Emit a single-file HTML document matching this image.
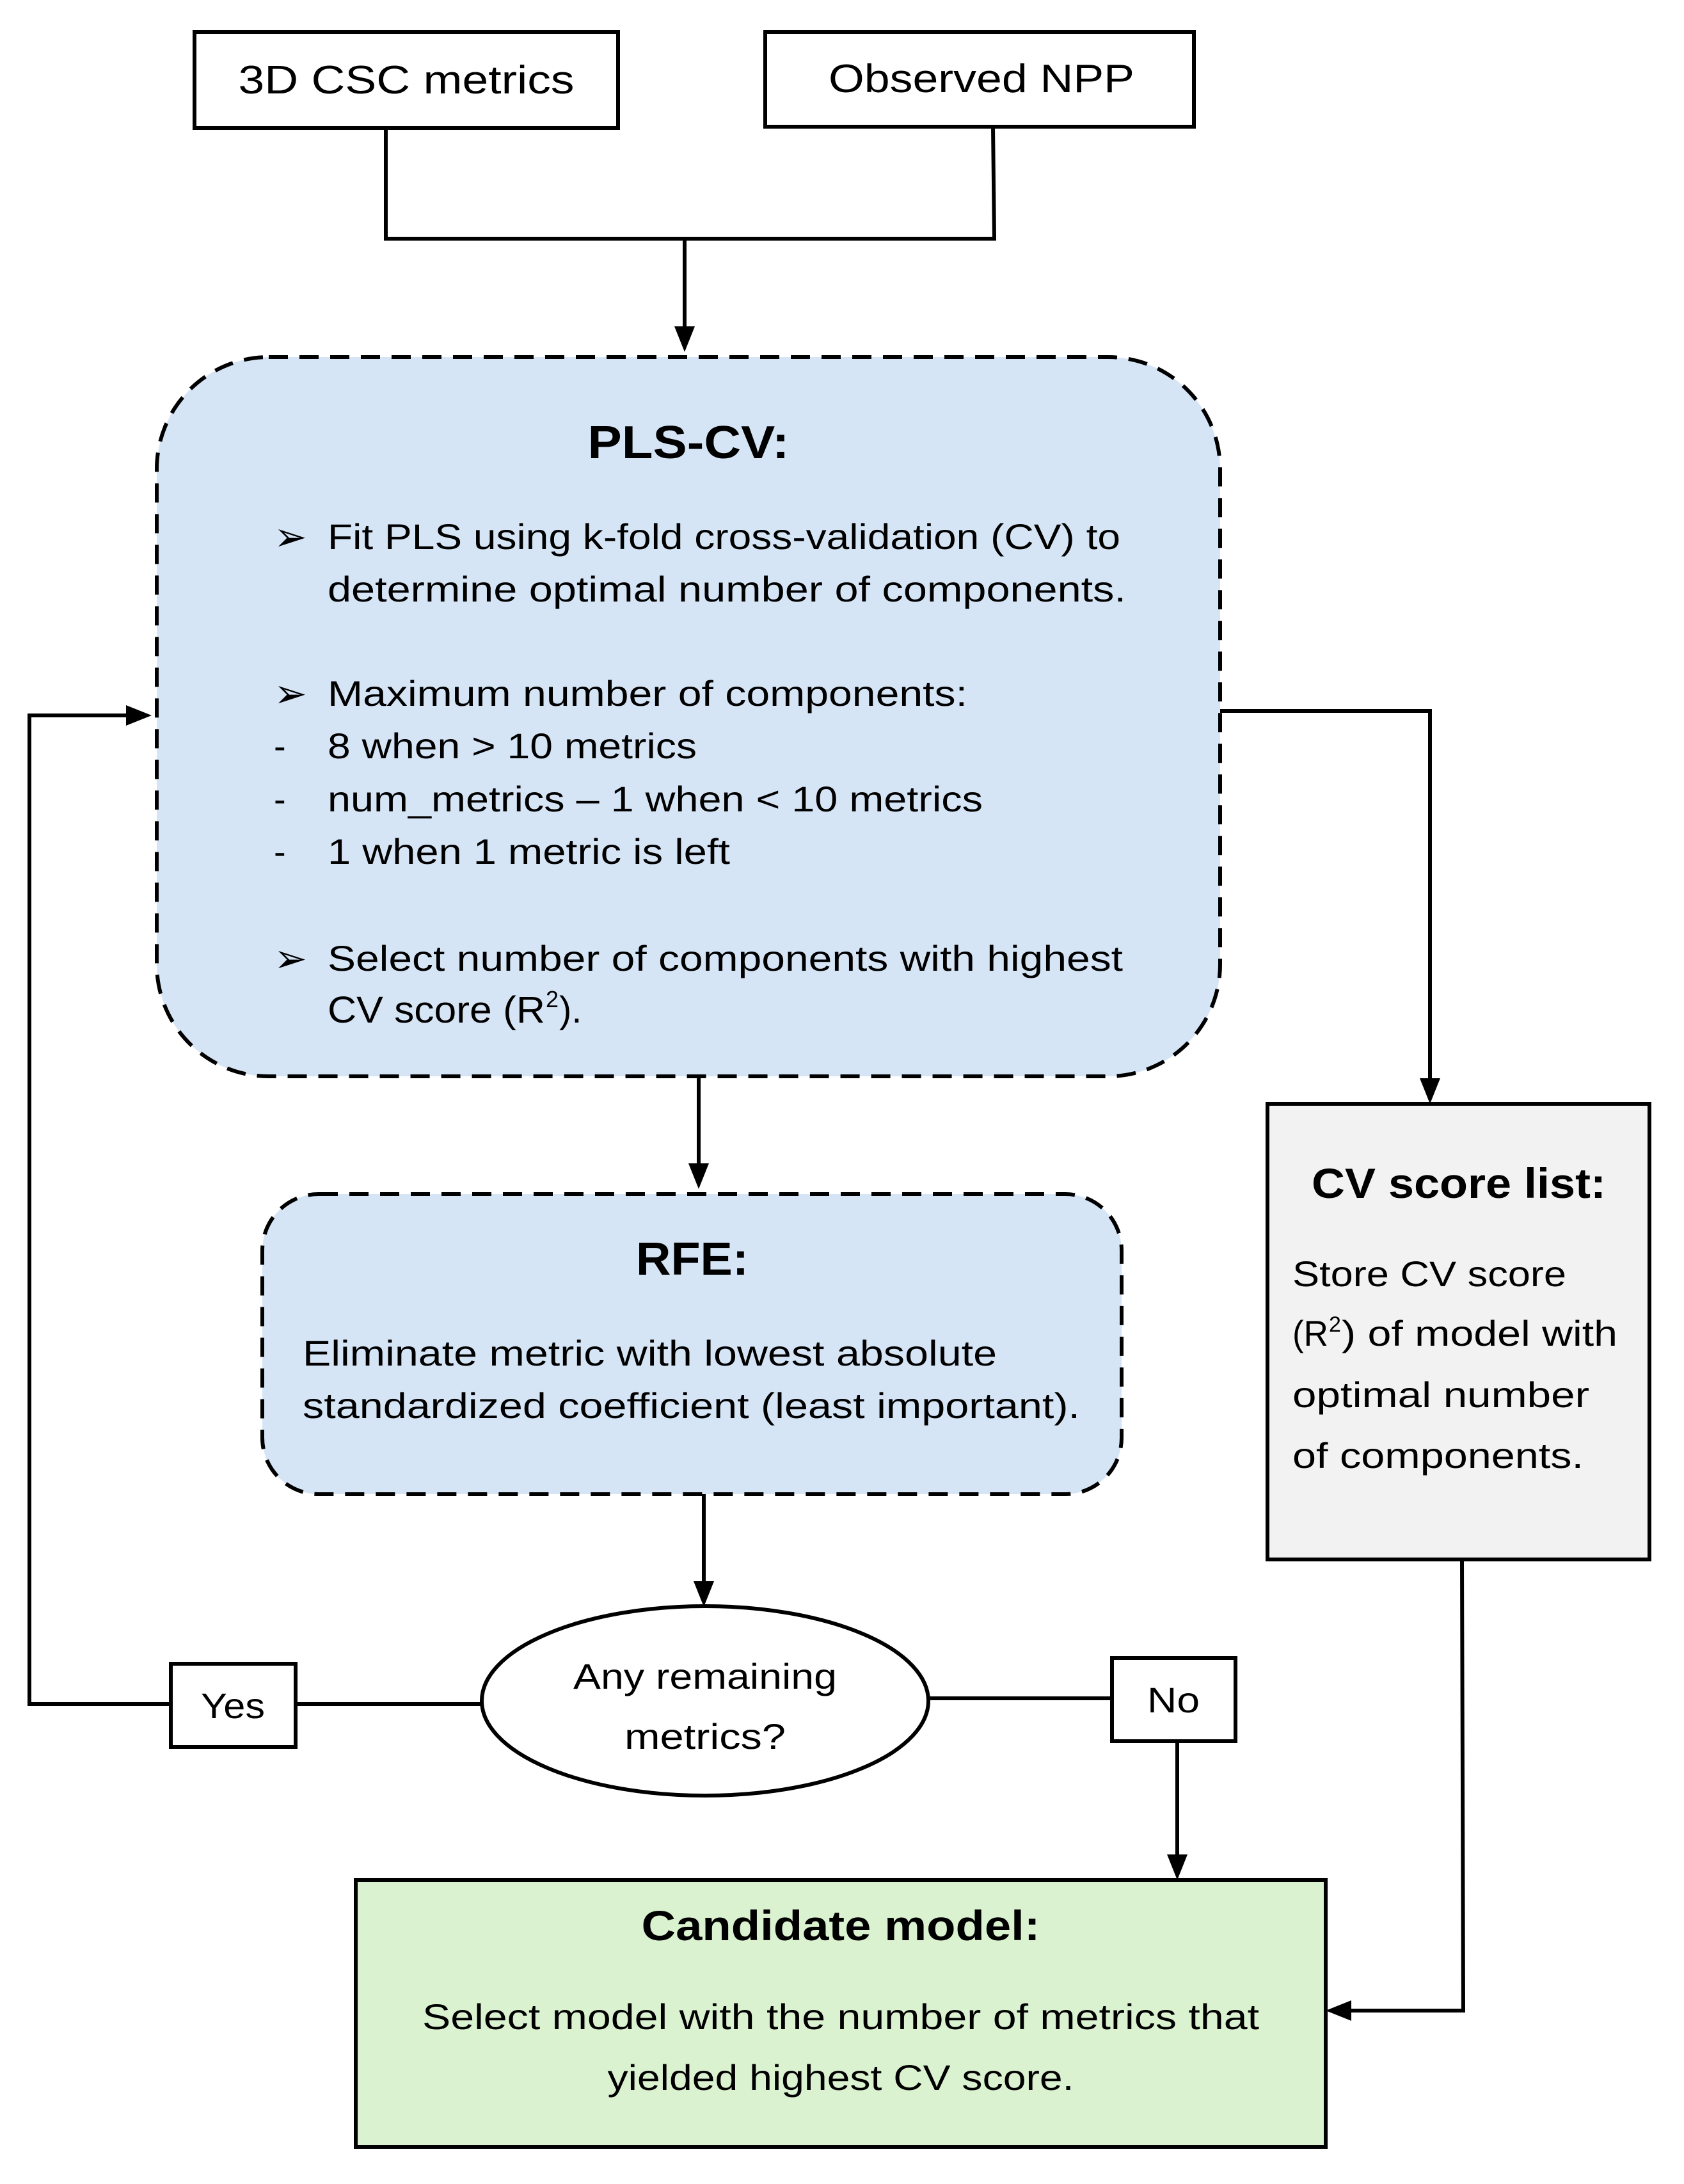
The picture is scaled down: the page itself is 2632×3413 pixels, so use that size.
<!DOCTYPE html>
<html><head><meta charset="utf-8"><style>
html,body{margin:0;padding:0;background:#fff;}
svg{display:block;}
text{font-family:"Liberation Sans","DejaVu Sans",sans-serif;fill:#000;}
</style></head><body>
<svg width="2632" height="3413" viewBox="0 0 2632 3413" xmlns="http://www.w3.org/2000/svg">
<rect width="2632" height="3413" fill="#fff"/>
<g stroke="#000" stroke-width="6" fill="none">
<rect x="304" y="50" width="662" height="150" fill="#fff"/>
<rect x="1196" y="50" width="670" height="148" fill="#fff"/>
<polyline points="603,200 603,373 1554,373 1552,198"/>
<line x1="1070" y1="373" x2="1070" y2="540"/>
<rect x="245" y="558" width="1662" height="1124" rx="175" fill="#d6e5f6" stroke-dasharray="30,18"/>
<polyline points="1907,1111 2235,1111 2235,1718"/>
<rect x="1981" y="1725" width="597" height="712" fill="#f2f2f2"/>
<line x1="1092" y1="1682" x2="1092" y2="1848"/>
<rect x="410" y="1866" width="1343" height="469" rx="88" fill="#d6e5f6" stroke-dasharray="30,18"/>
<line x1="1100" y1="2335" x2="1100" y2="2504"/>
<ellipse cx="1102" cy="2658" rx="349" ry="148" fill="#fff"/>
<polyline points="753,2663 46,2663 46,1118 227,1118"/>
<rect x="267" y="2600" width="195" height="130" fill="#fff"/>
<line x1="1451" y1="2654" x2="1738" y2="2654"/>
<rect x="1738" y="2591" width="193" height="130" fill="#fff"/>
<line x1="1840" y1="2721" x2="1840" y2="2930"/>
<rect x="556" y="2938" width="1516" height="417" fill="#daf2d0"/>
<polyline points="2285,2437 2287,3142 2080,3142"/>
</g>
<g fill="#000">
<polygon points="1054,510 1086,510 1070,550"/>
<polygon points="2219,1685 2251,1685 2235,1725"/>
<polygon points="1076,1818 1108,1818 1092,1858"/>
<polygon points="1084,2471 1116,2471 1100,2511"/>
<polygon points="1824,2898 1856,2898 1840,2938"/>
<polygon points="197,1102 197,1134 237,1118"/>
<polygon points="2112,3126 2112,3158 2072,3142"/>
</g>
<text x="635" y="146" font-size="62" text-anchor="middle" textLength="525" lengthAdjust="spacingAndGlyphs">3D CSC metrics</text>
<text x="1534" y="144" font-size="62" text-anchor="middle" textLength="478" lengthAdjust="spacingAndGlyphs">Observed NPP</text>

<text x="1076" y="716" font-size="72" font-weight="bold" text-anchor="middle" textLength="315" lengthAdjust="spacingAndGlyphs">PLS-CV:</text>
<g font-size="56">
<text x="428" y="860" font-size="62">➢</text>
<text x="512" y="858" textLength="1239" lengthAdjust="spacingAndGlyphs">Fit PLS using k-fold cross-validation (CV) to</text>
<text x="512" y="940" textLength="1248" lengthAdjust="spacingAndGlyphs">determine optimal number of components.</text>
<text x="428" y="1105" font-size="62">➢</text>
<text x="512" y="1103" textLength="1000" lengthAdjust="spacingAndGlyphs">Maximum number of components:</text>
<text x="428" y="1185">-</text>
<text x="512" y="1185" textLength="577" lengthAdjust="spacingAndGlyphs">8 when &gt; 10 metrics</text>
<text x="428" y="1268">-</text>
<text x="512" y="1268" textLength="1024" lengthAdjust="spacingAndGlyphs">num_metrics – 1 when &lt; 10 metrics</text>
<text x="428" y="1350">-</text>
<text x="512" y="1350" textLength="629" lengthAdjust="spacingAndGlyphs">1 when 1 metric is left</text>
<text x="428" y="1519" font-size="62">➢</text>
<text x="512" y="1517" textLength="1243" lengthAdjust="spacingAndGlyphs">Select number of components with highest</text>
</g>
<text x="512" y="1598" font-size="58" textLength="340" lengthAdjust="spacingAndGlyphs">CV score (R</text>
<text x="853" y="1574" font-size="36">2</text>
<text x="874" y="1598" font-size="58">).</text>

<text x="1082" y="1992" font-size="72" font-weight="bold" text-anchor="middle" textLength="176" lengthAdjust="spacingAndGlyphs">RFE:</text>
<text x="473" y="2134" font-size="56" textLength="1085" lengthAdjust="spacingAndGlyphs">Eliminate metric with lowest absolute</text>
<text x="473" y="2216" font-size="56" textLength="1215" lengthAdjust="spacingAndGlyphs">standardized coefficient (least important).</text>

<text x="2280" y="1872" font-size="66" font-weight="bold" text-anchor="middle" textLength="460" lengthAdjust="spacingAndGlyphs">CV score list:</text>
<text x="2020" y="2010" font-size="56" textLength="428" lengthAdjust="spacingAndGlyphs">Store CV score</text>
<text x="2020" y="2103" font-size="56" textLength="56" lengthAdjust="spacingAndGlyphs">(R</text>
<text x="2077" y="2081" font-size="34">2</text>
<text x="2097" y="2103" font-size="56" textLength="431" lengthAdjust="spacingAndGlyphs">) of model with</text>
<text x="2020" y="2199" font-size="56" textLength="464" lengthAdjust="spacingAndGlyphs">optimal number</text>
<text x="2020" y="2294" font-size="56" textLength="455" lengthAdjust="spacingAndGlyphs">of components.</text>

<text x="1102" y="2639" font-size="56" text-anchor="middle" textLength="412" lengthAdjust="spacingAndGlyphs">Any remaining</text>
<text x="1102" y="2733" font-size="56" text-anchor="middle" textLength="252" lengthAdjust="spacingAndGlyphs">metrics?</text>
<text x="364" y="2685" font-size="56" text-anchor="middle" textLength="100" lengthAdjust="spacingAndGlyphs">Yes</text>
<text x="1834" y="2676" font-size="56" text-anchor="middle" textLength="82" lengthAdjust="spacingAndGlyphs">No</text>

<text x="1314" y="3032" font-size="66" font-weight="bold" text-anchor="middle" textLength="623" lengthAdjust="spacingAndGlyphs">Candidate model:</text>
<text x="1314" y="3171" font-size="56" text-anchor="middle" textLength="1308" lengthAdjust="spacingAndGlyphs">Select model with the number of metrics that</text>
<text x="1314" y="3266" font-size="56" text-anchor="middle" textLength="729" lengthAdjust="spacingAndGlyphs">yielded highest CV score.</text>
</svg>
</body></html>
